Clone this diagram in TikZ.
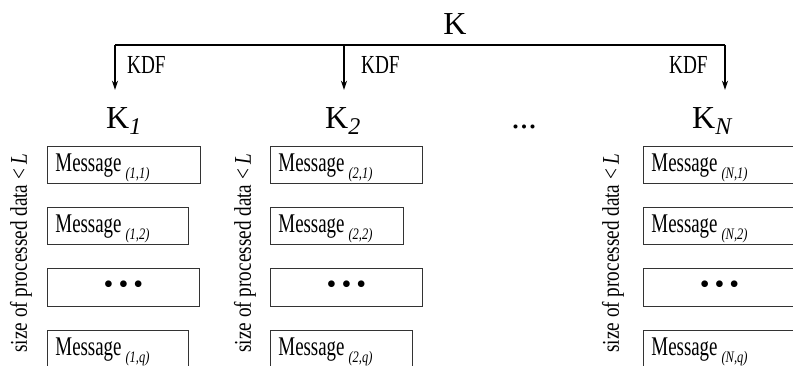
\documentclass[tikz,border=0pt]{standalone}
\usepackage{fontspec}
\setmainfont{Liberation Serif}
\newfontfamily\msgfont{Liberation Serif}[FakeStretch=0.7]
\newfontfamily\subfont{Liberation Serif}[FakeStretch=0.78]
\newfontfamily\kdffont{Liberation Serif}[FakeStretch=0.74]
\newfontfamily\sizefont{Liberation Serif}[FakeStretch=0.8]
\usetikzlibrary{arrows.meta}
\newcommand{\msg}[1]{\msgfont\fontsize{27}{30}\selectfont Message\hspace{4pt}\raisebox{-7pt}{\subfont\fontsize{16}{18}\selectfont\itshape (#1)}}
\newcommand{\kname}[1]{K\raisebox{-6pt}{\fontsize{24}{26}\selectfont\itshape #1}}
\newcommand{\bdots}{\textbullet\hspace{5pt}\textbullet\hspace{5pt}\textbullet}
\tikzset{
  msgbox/.style={draw=black!80, line width=0.9pt, anchor=north west, inner xsep=8pt, inner ysep=3pt,
    text width=#1pt, align=left, text height=22.5pt, text depth=8.5pt},
  dotbox/.style={draw=black!80, line width=0.9pt, anchor=north west, inner xsep=0pt, inner ysep=0pt,
    minimum width=#1pt, minimum height=38pt, font=\fontsize{28}{30}\selectfont},
  kdf/.style={anchor=base west, inner sep=0pt, font=\kdffont\fontsize{26}{28}\selectfont},
  keynode/.style={anchor=base west, inner xsep=0pt, inner ysep=18pt, text height=21pt, font=\fontsize{32}{34}\selectfont},
  sizelabel/.style={rotate=90, inner sep=0pt, font=\sizefont\fontsize{24}{26}\selectfont},
  bar/.style={line width=1.3pt},
  kdfarrow/.style={line width=1.3pt, -{Stealth[length=9pt,width=6pt]}}
}
\begin{document}
\begin{tikzpicture}[x=1pt,y=-1pt]
\useasboundingbox (0,0) rectangle (793,366);
\clip (0,0) rectangle (793,366);
% master key
\node[anchor=base, inner sep=0pt, font=\fontsize{32}{34}\selectfont] (K) at (455,35) {K};
\coordinate (b1) at (115,45);
\coordinate (b2) at (344,45);
\coordinate (bN) at (725,45);
\draw[bar] (b1) -- (bN);
% derived keys
\node[keynode] (K1) at (106,129) {\kname{1}};
\node[keynode] (K2) at (325,129) {\kname{2}};
\node[keynode] (KN) at (692,129) {\kname{N}};
\node[anchor=base, inner sep=0pt, font=\fontsize{34}{36}\selectfont] (kdots) at (524,129) {...};
\draw[kdfarrow] (b1) -- (b1 |- K1.north);
\draw[kdfarrow] (b2) -- (b2 |- K2.north);
\draw[kdfarrow] (bN) -- (bN |- KN.north);
\node[kdf] (kdf1) at (127,74) {KDF};
\node[kdf] (kdf2) at (361,74) {KDF};
\node[kdf] (kdfN) at (669,74) {KDF};
% size labels
\node[sizelabel] (s1) at (21,253) {size of processed data < \textit{L}};
\node[sizelabel] (s2) at (245,253) {size of processed data < \textit{L}};
\node[sizelabel] (sN) at (613,253) {size of processed data < \textit{L}};
% column 1
\node[msgbox=137] (m11) at (47,146) {\msg{1,1}};
\node[msgbox=125] (m12) at (47,207) {\msg{1,2}};
\node[dotbox=152] (m1d) at (47,268) {\bdots};
\node[msgbox=125, text depth=20pt] (m1q) at (47,330) {\msg{1,q}};
% column 2
\node[msgbox=136] (m21) at (270,146) {\msg{2,1}};
\node[msgbox=117] (m22) at (270,207) {\msg{2,2}};
\node[dotbox=152] (m2d) at (270,268) {\bdots};
\node[msgbox=126, text depth=20pt] (m2q) at (270,330) {\msg{2,q}};
% column N
\node[msgbox=144] (mN1) at (643,146) {\msg{N,1}};
\node[msgbox=144] (mN2) at (643,207) {\msg{N,2}};
\node[dotbox=152] (mNd) at (643,268) {\bdots};
\node[msgbox=144, text depth=20pt] (mNq) at (643,330) {\msg{N,q}};
\end{tikzpicture}
\end{document}
